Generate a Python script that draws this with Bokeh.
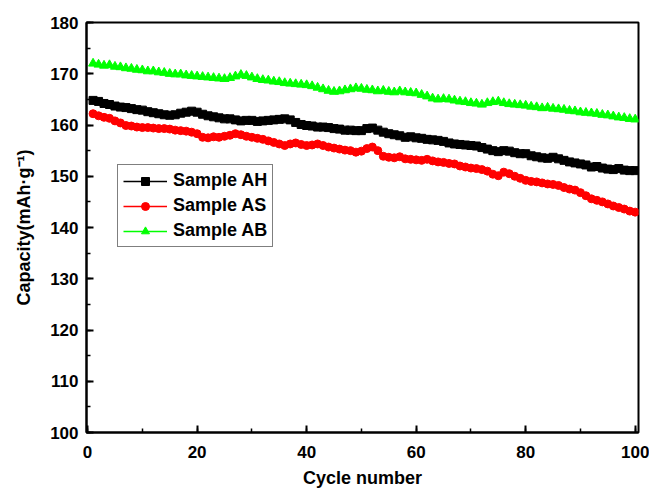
from bokeh.plotting import figure
from bokeh.models import Legend, LegendItem, FixedTicker, Range1d
from bokeh.embed import file_html
from bokeh.resources import INLINE

cycles = list(range(1, 101))

sample_ah = [
    164.8, 164.6, 164.2, 164.0, 163.7, 163.5, 163.4, 163.2, 163.0, 162.9,
    162.6, 162.4, 162.2, 162.0, 161.9, 162.0, 162.3, 162.5, 162.7, 162.5,
    162.1, 161.8, 161.6, 161.4, 161.2, 161.2, 161.0, 160.8, 160.9, 160.9,
    160.7, 160.8, 160.9, 161.0, 161.1, 161.2, 161.0, 160.5, 160.1, 159.9,
    159.8, 159.6, 159.6, 159.5, 159.3, 159.2, 159.0, 159.0, 158.9, 158.9,
    159.3, 159.4, 159.0, 158.6, 158.3, 158.1, 157.9, 157.6, 157.7, 157.5,
    157.4, 157.2, 157.1, 157.0, 156.8, 156.5, 156.3, 156.2, 156.1, 156.0,
    155.9, 155.6, 155.3, 155.0, 154.8, 155.0, 154.9, 154.6, 154.4, 154.4,
    154.0, 153.8, 153.6, 153.5, 153.7, 153.4, 153.1, 152.8, 152.6, 152.4,
    152.2, 151.8, 151.9, 151.6, 151.4, 151.3, 151.5, 151.2, 151.1, 151.1,
]

sample_as = [
    162.2, 161.8, 161.5, 161.3, 160.8, 160.4, 159.9, 159.8, 159.6, 159.5,
    159.5, 159.4, 159.3, 159.3, 159.2, 159.0, 158.9, 158.8, 158.6, 158.3,
    157.6, 157.5, 157.7, 157.6, 157.8, 158.0, 158.3, 158.1, 157.8, 157.6,
    157.4, 157.2, 156.9, 156.6, 156.3, 156.0, 156.3, 156.5, 156.2, 156.0,
    156.1, 156.3, 156.0, 155.7, 155.5, 155.3, 155.1, 155.0, 154.7, 154.9,
    155.4, 155.7, 155.0, 153.9, 153.7, 153.6, 153.8, 153.4, 153.3, 153.2,
    153.1, 153.3, 153.0, 152.8, 152.7, 152.5, 152.4, 152.0, 151.8, 151.6,
    151.5, 151.3, 151.0, 150.4, 150.1, 150.8, 150.5, 150.0, 149.6, 149.2,
    149.0, 148.9, 148.7, 148.5, 148.4, 148.2, 147.8, 147.5, 147.3, 146.8,
    146.2, 145.6, 145.3, 145.0, 144.6, 144.2, 143.9, 143.6, 143.2, 143.0,
]

sample_ab = [
    172.0, 171.8, 171.6, 171.7, 171.4, 171.3, 171.1, 171.0, 170.8, 170.7,
    170.5, 170.5, 170.3, 170.2, 170.0, 169.9, 169.9, 169.7, 169.6, 169.5,
    169.4, 169.3, 169.2, 169.1, 169.0, 169.2, 169.5, 169.8, 169.6, 169.3,
    169.0, 168.8, 168.7, 168.5, 168.4, 168.2, 168.1, 168.0, 167.9, 167.8,
    167.6, 167.3, 167.0, 166.7, 166.5, 166.6, 166.8, 167.0, 167.2, 167.1,
    166.9, 166.8, 166.6, 166.7, 166.5, 166.4, 166.6, 166.4, 166.3, 166.2,
    165.9, 165.6, 165.2, 165.0, 165.1, 165.0, 164.8, 164.6, 164.5, 164.3,
    164.2, 164.0, 164.3, 164.5, 164.6, 164.3, 164.1, 164.0, 163.9, 163.8,
    163.6, 163.5, 163.3, 163.4, 163.2, 163.1, 163.0, 162.8, 162.7, 162.5,
    162.4, 162.3, 162.2, 162.0, 161.9, 161.7, 161.5, 161.4, 161.2, 161.1,
]

series_names = ["Sample AH", "Sample AS", "Sample AB"]
x_ticks = [0, 20, 40, 60, 80, 100]
y_ticks = [100, 110, 120, 130, 140, 150, 160, 170, 180]

FONT = "Liberation Sans"

p = figure(width=649, height=490, output_backend="svg", toolbar_location=None,
           x_range=Range1d(-0.2, 100.6), y_range=Range1d(100, 180),
           min_border_left=86, min_border_right=11, min_border_top=22, min_border_bottom=58)

p.xgrid.visible = False
p.ygrid.visible = False
p.outline_line_color = "black"
p.outline_line_width = 2
p.background_fill_color = "white"
p.border_fill_color = "white"

for ax in (p.xaxis[0], p.yaxis[0]):
    ax.axis_line_width = 2
    ax.axis_line_color = "black"
    ax.major_tick_in = 7
    ax.major_tick_out = 0
    ax.minor_tick_in = 4
    ax.minor_tick_out = 0
    ax.major_tick_line_width = 2
    ax.minor_tick_line_width = 1.5
    ax.major_label_text_font = FONT
    ax.major_label_text_font_style = "bold"
    ax.major_label_text_font_size = "17px"
    ax.major_label_text_color = "black"
    ax.axis_label_text_font = FONT
    ax.axis_label_text_font_style = "bold"
    ax.axis_label_text_font_size = "18px"
    ax.axis_label_text_color = "black"

p.xaxis[0].ticker = FixedTicker(ticks=x_ticks, minor_ticks=list(range(0, 101, 10)))
p.yaxis[0].ticker = FixedTicker(ticks=y_ticks, minor_ticks=list(range(100, 181, 5)))
p.xaxis[0].axis_label = "Cycle number"
p.yaxis[0].axis_label = "Capacity(mAh·g⁻¹)"
p.xaxis[0].major_label_standoff = 13
p.xaxis[0].axis_label_standoff = 7
p.yaxis[0].major_label_standoff = 8
p.yaxis[0].axis_label_standoff = 13

l1 = p.line(cycles, sample_ah, line_color="black", line_width=1.5)
s1 = p.scatter(cycles, sample_ah, marker="square", size=8, fill_color="black", line_color="black")
l2 = p.line(cycles, sample_as, line_color="#ff0000", line_width=1.5)
s2 = p.scatter(cycles, sample_as, marker="circle", size=8, fill_color="#ff0000", line_color="#ff0000")
l3 = p.line(cycles, sample_ab, line_color="#00ff00", line_width=1.5)
s3 = p.scatter(cycles, sample_ab, marker="triangle", size=9, fill_color="#00ff00", line_color="#00ff00")

legend = Legend(items=[
    LegendItem(label=series_names[0], renderers=[l1, s1]),
    LegendItem(label=series_names[1], renderers=[l2, s2]),
    LegendItem(label=series_names[2], renderers=[l3, s3]),
], location=(31, 185))
legend.margin = 0
legend.padding = 5
legend.spacing = 4
legend.glyph_width = 44
legend.glyph_height = 20
legend.label_height = 20
legend.label_standoff = 6
legend.label_text_font = FONT
legend.label_text_font_style = "bold"
legend.label_text_font_size = "18px"
legend.label_text_color = "black"
legend.border_line_color = "black"
legend.border_line_width = 1
legend.background_fill_color = "white"
legend.background_fill_alpha = 1
p.add_layout(legend, "center")

open("out.html", "w").write(file_html(p, INLINE))
